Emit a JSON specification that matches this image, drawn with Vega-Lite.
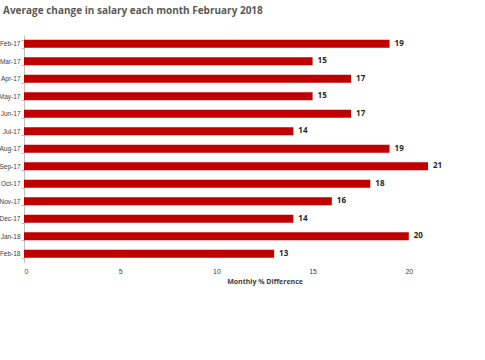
{
  "$schema": "https://vega.github.io/schema/vega-lite/v6.json",
  "width": 481,
  "height": 227.5,
  "padding": {"left": 24, "top": 35, "right": 0, "bottom": 97.5},
  "autosize": {"type": "none"},
  "background": "white",
  "title": {
    "text": "Average change in salary each month February 2018",
    "anchor": "start",
    "frame": "group",
    "dx": -21,
    "offset": 16,
    "font": "Open Sans",
    "fontSize": 10,
    "fontWeight": "bold",
    "color": "#595959"
  },
  "config": {"view": {"stroke": null}, "font": "Liberation Sans"},
  "data": {
    "values": [
      {"month": "Feb-17", "value": 19},
      {"month": "Mar-17", "value": 15},
      {"month": "Apr-17", "value": 17},
      {"month": "May-17", "value": 15},
      {"month": "Jun-17", "value": 17},
      {"month": "Jul-17", "value": 14},
      {"month": "Aug-17", "value": 19},
      {"month": "Sep-17", "value": 21},
      {"month": "Oct-17", "value": 18},
      {"month": "Nov-17", "value": 16},
      {"month": "Dec-17", "value": 14},
      {"month": "Jan-18", "value": 20},
      {"month": "Feb-18", "value": 13}
    ]
  },
  "encoding": {
    "y": {
      "field": "month",
      "type": "nominal",
      "sort": null,
      "scale": {"paddingInner": 0.55, "paddingOuter": 0.275},
      "axis": {
        "title": null,
        "tickBand": "extent",
        "domainColor": "#bfbfbf",
        "tickColor": "#bfbfbf",
        "tickSize": 3,
        "labelFontSize": 6.5,
        "labelColor": "#404040",
        "labelPadding": 1
      }
    },
    "x": {
      "field": "value",
      "type": "quantitative",
      "scale": {"domain": [0, 25], "nice": false},
      "axis": {
        "title": "Monthly % Difference",
        "titleFont": "Open Sans",
        "titleFontSize": 7,
        "titleFontWeight": "bold",
        "titleColor": "#404040",
        "titlePadding": 3,
        "values": [0, 5, 10, 15, 20],
        "grid": false,
        "domain": false,
        "ticks": false,
        "labelFontSize": 7,
        "labelColor": "#404040",
        "labelPadding": 5
      }
    }
  },
  "layer": [
    {"mark": {"type": "bar", "color": "#C00000"}},
    {
      "mark": {"type": "text", "align": "left", "dx": 5, "font": "Open Sans", "fontSize": 8, "fontWeight": "bold", "color": "#262626"},
      "encoding": {"text": {"field": "value", "type": "quantitative"}}
    }
  ]
}
